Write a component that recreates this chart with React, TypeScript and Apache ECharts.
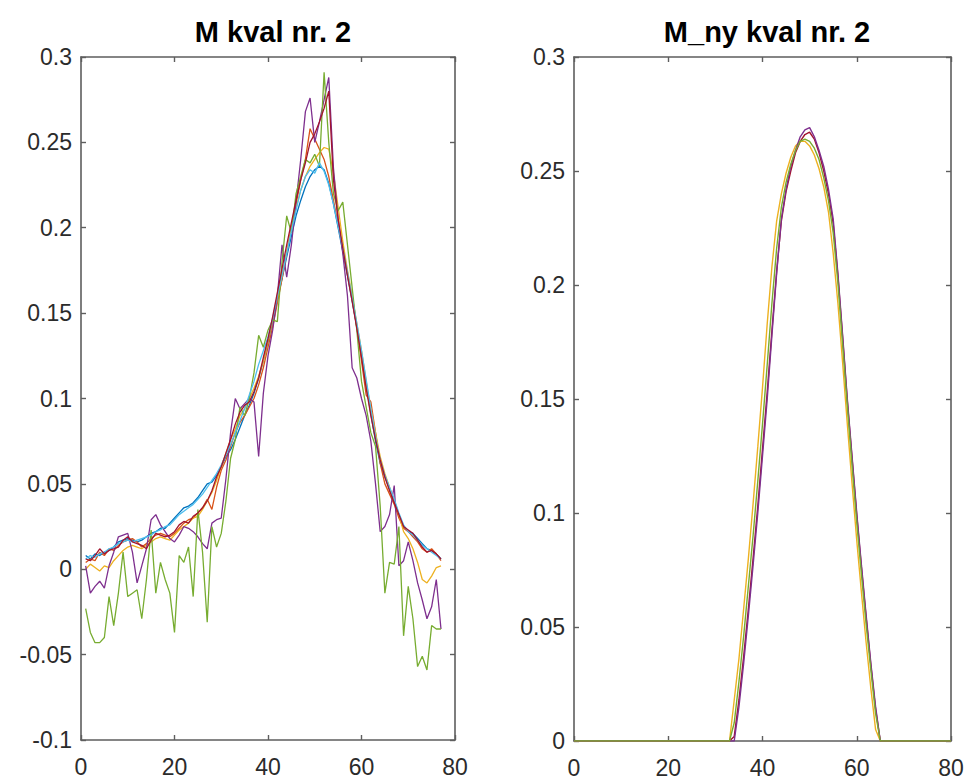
import React, { useEffect, useRef } from "react";
import * as echarts from "echarts";

// ---------- data ----------
const TITLES = ["M kval nr. 2", "M_ny kval nr. 2"];
const X_TICKS = [0, 20, 40, 60, 80];
const LEFT_Y_RANGE = [-0.1, 0.3];
const RIGHT_Y_RANGE = [0, 0.3];

const LEFT_X = [
  1, 2, 3, 4, 5, 6, 7, 8, 9, 10, 11, 12, 13, 14, 15, 16, 17, 18, 19, 20,
  21, 22, 23, 24, 25, 26, 27, 28, 29, 30, 31, 32, 33, 34, 35, 36, 37, 38, 39, 40,
  41, 42, 43, 44, 45, 46, 47, 48, 49, 50, 51, 52, 53, 54, 55, 56, 57, 58, 59, 60,
  61, 62, 63, 64, 65, 66, 67, 68, 69, 70, 71, 72, 73, 74, 75, 76, 77,
];

const L_BLUE = [
  0.008, 0.006, 0.009, 0.008, 0.010, 0.011, 0.013, 0.016, 0.017, 0.018,
  0.017, 0.016, 0.017, 0.019, 0.021, 0.022, 0.024, 0.024, 0.027, 0.030,
  0.033, 0.036, 0.037, 0.039, 0.042, 0.046, 0.050, 0.051, 0.055, 0.060,
  0.066, 0.070, 0.076, 0.083, 0.090, 0.096, 0.103, 0.112, 0.122, 0.133,
  0.145, 0.158, 0.170, 0.183, 0.195, 0.207, 0.216, 0.224, 0.230, 0.234,
  0.236, 0.234, 0.226, 0.214, 0.200, 0.186, 0.172, 0.157, 0.142, 0.125,
  0.108, 0.091, 0.075, 0.062, 0.054, 0.047, 0.040, 0.032, 0.025, 0.022,
  0.021, 0.018, 0.015, 0.012, 0.011, 0.009, 0.006,
];
const L_ORANGE = [
  0.004, 0.006, 0.005, 0.010, 0.008, 0.012, 0.011, 0.014, 0.016, 0.017,
  0.018, 0.016, 0.013, 0.015, 0.018, 0.020, 0.021, 0.020, 0.019, 0.021,
  0.024, 0.027, 0.029, 0.030, 0.033, 0.036, 0.041, 0.035, 0.048, 0.058,
  0.064, 0.072, 0.080, 0.086, 0.090, 0.095, 0.100, 0.108, 0.118, 0.130,
  0.142, 0.156, 0.170, 0.185, 0.200, 0.214, 0.228, 0.240, 0.258, 0.252,
  0.246, 0.240, 0.230, 0.216, 0.202, 0.188, 0.173, 0.158, 0.142, 0.122,
  0.102, 0.098, 0.080, 0.062, 0.050, 0.044, 0.038, 0.030, 0.024, 0.022,
  0.019, 0.016, 0.012, 0.010, 0.012, 0.009, 0.005,
];
const L_YELLOW = [
  0.000, 0.003, 0.001, -0.001, 0.002, 0.001, 0.005, 0.008, 0.011, 0.013,
  0.014, 0.013, 0.012, 0.014, 0.016, 0.018, 0.019, 0.018, 0.017, 0.020,
  0.023, 0.025, 0.027, 0.030, 0.031, 0.035, 0.040, 0.045, 0.052, 0.060,
  0.068, 0.076, 0.082, 0.090, 0.094, 0.100, 0.106, 0.113, 0.122, 0.134,
  0.146, 0.158, 0.172, 0.186, 0.200, 0.212, 0.222, 0.230, 0.236, 0.240,
  0.244, 0.247, 0.246, 0.232, 0.212, 0.192, 0.175, 0.160, 0.144, 0.128,
  0.110, 0.094, 0.080, 0.066, 0.056, 0.048, 0.040, 0.032, 0.022, 0.018,
  0.012, 0.004, -0.006, -0.008, -0.004, 0.001, 0.002,
];
const L_PURPLE = [
  0.002, -0.014, -0.010, -0.007, -0.011, 0.002, 0.010, 0.019, 0.020, 0.021,
  0.010, -0.008, 0.002, 0.012, 0.029, 0.032, 0.026, 0.022, 0.018, 0.016,
  0.020, 0.025, 0.024, 0.022, 0.019, 0.015, 0.012, 0.027, 0.029, 0.030,
  0.053, 0.080, 0.100, 0.094, 0.097, 0.100, 0.098, 0.066, 0.103, 0.125,
  0.140, 0.160, 0.190, 0.171, 0.190, 0.215, 0.240, 0.268, 0.276, 0.250,
  0.262, 0.275, 0.288, 0.235, 0.205, 0.185, 0.160, 0.118, 0.112, 0.100,
  0.090, 0.075, 0.050, 0.022, 0.025, 0.032, 0.049, 0.002, 0.005, 0.016,
  0.005, -0.008, -0.018, -0.029, -0.022, -0.006, -0.035,
];
const L_GREEN = [
  -0.023, -0.037, -0.043, -0.043, -0.040, -0.016, -0.033, -0.014, 0.010, -0.016,
  -0.014, -0.012, -0.029, -0.006, 0.023, -0.014, 0.004, -0.006, -0.014, -0.037,
  0.008, 0.004, 0.013, -0.016, 0.035, 0.010, -0.031, 0.025, 0.013, 0.021,
  0.040, 0.065, 0.076, 0.095, 0.090, 0.100, 0.115, 0.137, 0.130, 0.140,
  0.146, 0.145, 0.180, 0.207, 0.197, 0.220, 0.230, 0.240, 0.238, 0.243,
  0.236, 0.291, 0.250, 0.220, 0.210, 0.215, 0.190, 0.165, 0.140, 0.110,
  0.095, 0.080, 0.072, 0.037, -0.014, 0.004, 0.003, 0.025, -0.039, -0.010,
  -0.029, -0.057, -0.051, -0.059, -0.033, -0.035, -0.035,
];
const L_CYAN = [
  0.006, 0.008, 0.007, 0.009, 0.010, 0.012, 0.013, 0.015, 0.016, 0.017,
  0.016, 0.017, 0.018, 0.019, 0.020, 0.022, 0.023, 0.025, 0.026, 0.029,
  0.032, 0.034, 0.036, 0.038, 0.041, 0.044, 0.048, 0.052, 0.056, 0.061,
  0.067, 0.073, 0.080, 0.087, 0.094, 0.102, 0.110, 0.120, 0.128, 0.136,
  0.147, 0.160, 0.172, 0.185, 0.198, 0.210, 0.222, 0.230, 0.234, 0.232,
  0.238, 0.233, 0.225, 0.214, 0.201, 0.188, 0.174, 0.159, 0.144, 0.128,
  0.111, 0.094, 0.078, 0.064, 0.055, 0.048, 0.041, 0.033, 0.026, 0.022,
  0.020, 0.017, 0.014, 0.012, 0.010, 0.008, 0.006,
];
const L_DARKRED = [
  0.006, 0.005, 0.008, 0.012, 0.009, 0.011, 0.012, 0.013, 0.017, 0.019,
  0.016, 0.015, 0.014, 0.012, 0.017, 0.021, 0.020, 0.019, 0.020, 0.022,
  0.026, 0.028, 0.027, 0.031, 0.033, 0.036, 0.040, 0.046, 0.054, 0.060,
  0.068, 0.076, 0.085, 0.092, 0.096, 0.098, 0.104, 0.112, 0.124, 0.135,
  0.148, 0.162, 0.176, 0.190, 0.203, 0.216, 0.228, 0.238, 0.250, 0.255,
  0.262, 0.270, 0.280, 0.228, 0.205, 0.188, 0.172, 0.157, 0.141, 0.124,
  0.106, 0.090, 0.076, 0.064, 0.054, 0.046, 0.039, 0.032, 0.025, 0.023,
  0.021, 0.017, 0.013, 0.010, 0.011, 0.009, 0.006,
];

const RIGHT_X = [
  0, 33, 34, 35, 36, 37, 38, 39, 40, 41, 42, 43, 44, 45, 46, 47, 48, 49, 50,
  51, 52, 53, 54, 55, 56, 57, 58, 59, 60, 61, 62, 63, 64, 65, 66, 80,
];
const R_DARKRED = [
  0, 0, 0.002, 0.018, 0.037, 0.058, 0.080, 0.103, 0.128, 0.153, 0.180, 0.206, 0.228, 0.241, 0.250, 0.258, 0.263, 0.266, 0.267,
  0.264, 0.258, 0.250, 0.240, 0.227, 0.204, 0.177, 0.149, 0.124, 0.099, 0.076, 0.054, 0.033, 0.014, 0, 0, 0,
];
const R_YELLOW = [
  0, 0, 0.018, 0.036, 0.058, 0.080, 0.104, 0.129, 0.155, 0.183, 0.208, 0.228, 0.240, 0.249, 0.256, 0.261, 0.263, 0.263, 0.261,
  0.257, 0.251, 0.243, 0.232, 0.214, 0.192, 0.166, 0.139, 0.113, 0.088, 0.065, 0.043, 0.023, 0.005, 0, 0, 0,
];
const R_PURPLE = [
  0, 0, 0, 0.015, 0.034, 0.055, 0.077, 0.100, 0.125, 0.150, 0.178, 0.205, 0.229, 0.242, 0.252, 0.259, 0.265, 0.268, 0.269,
  0.265, 0.259, 0.252, 0.242, 0.229, 0.205, 0.178, 0.150, 0.125, 0.100, 0.077, 0.055, 0.034, 0.015, 0, 0, 0,
];
const R_GREEN = [
  0, 0, 0.008, 0.026, 0.046, 0.068, 0.090, 0.114, 0.139, 0.165, 0.192, 0.216, 0.234, 0.245, 0.253, 0.259, 0.263, 0.264, 0.263,
  0.260, 0.255, 0.247, 0.237, 0.223, 0.201, 0.174, 0.147, 0.121, 0.096, 0.073, 0.051, 0.031, 0.012, 0, 0, 0,
];

const LEFT_SERIES = [
  { color: "#0072BD", values: L_BLUE },
  { color: "#D95319", values: L_ORANGE },
  { color: "#EDB120", values: L_YELLOW },
  { color: "#7E2F8E", values: L_PURPLE },
  { color: "#77AC30", values: L_GREEN },
  { color: "#4DBEEE", values: L_CYAN },
  { color: "#A2142F", values: L_DARKRED },
];
const RIGHT_SERIES = [
  { color: "#A2142F", values: R_DARKRED },
  { color: "#EDB120", values: R_YELLOW },
  { color: "#7E2F8E", values: R_PURPLE },
  { color: "#77AC30", values: R_GREEN },
];

// ---------- styling ----------
const FONT = "Liberation Sans";
const AXIS_COLOR = "#5e5e5e";
const LABEL_COLOR = "#2b2b2b";

function fmt(v: number) {
  return String(Math.round(v * 1000) / 1000);
}

function makeAxes(grid: number, yMin: number, yMax: number) {
  const line = { show: true, onZero: false, lineStyle: { color: AXIS_COLOR, width: 1.6 } };
  const tick = { show: true, inside: true, length: 5, lineStyle: { color: AXIS_COLOR, width: 1.4 } };
  const xBase = { type: "value", gridIndex: grid, min: X_TICKS[0], max: X_TICKS[X_TICKS.length - 1], interval: 20, splitLine: { show: false }, axisLine: line, axisTick: tick };
  const yBase = { type: "value", gridIndex: grid, min: yMin, max: yMax, interval: 0.05, splitLine: { show: false }, axisLine: line, axisTick: tick };
  const xAxes = [
    { ...xBase, position: "bottom", axisLabel: { show: true, showMinLabel: true, showMaxLabel: true, margin: 15, color: LABEL_COLOR, fontSize: 23, fontFamily: FONT, formatter: fmt } },
    { ...xBase, position: "top", axisLabel: { show: false } },
  ];
  const yAxes = [
    { ...yBase, position: "left", axisLabel: { show: true, showMinLabel: true, showMaxLabel: true, margin: 9, color: LABEL_COLOR, fontSize: 23, fontFamily: FONT, formatter: fmt } },
    { ...yBase, position: "right", axisLabel: { show: false } },
  ];
  return { xAxes, yAxes };
}

export default function App() {
  const ref = useRef<HTMLDivElement>(null);
  useEffect(() => {
    if (!ref.current) return;
    const chart = echarts.init(ref.current, undefined, { renderer: "svg" });
    const a0 = makeAxes(0, LEFT_Y_RANGE[0], LEFT_Y_RANGE[1]);
    const a1 = makeAxes(1, RIGHT_Y_RANGE[0], RIGHT_Y_RANGE[1]);
    const series: any[] = [];
    LEFT_SERIES.forEach((s) => {
      series.push({
        type: "line",
        xAxisIndex: 0,
        yAxisIndex: 0,
        showSymbol: false,
        data: LEFT_X.map((x, i) => [x, s.values[i]]),
        lineStyle: { color: s.color, width: 1.3 },
        itemStyle: { color: s.color },
      });
    });
    RIGHT_SERIES.forEach((s) => {
      series.push({
        type: "line",
        xAxisIndex: 2,
        yAxisIndex: 2,
        showSymbol: false,
        data: RIGHT_X.map((x, i) => [x, s.values[i]]),
        lineStyle: { color: s.color, width: 1.4 },
        itemStyle: { color: s.color },
      });
    });
    chart.setOption({
      animation: false,
      backgroundColor: "#ffffff",
      title: [
        { text: TITLES[0], left: 268, top: 12, textAlign: "center", textStyle: { fontSize: 29, fontWeight: "bold", fontFamily: FONT, color: "#000" } },
        { text: TITLES[1], left: 762, top: 12, textAlign: "center", textStyle: { fontSize: 29, fontWeight: "bold", fontFamily: FONT, color: "#000" } },
      ],
      grid: [
        { left: 81, top: 57, width: 374, height: 683 },
        { left: 574, top: 57, width: 377, height: 684 },
      ],
      xAxis: [...a0.xAxes, ...a1.xAxes],
      yAxis: [...a0.yAxes, ...a1.yAxes],
      series,
    });
    return () => chart.dispose();
  }, []);
  return (
    <div
      ref={ref}
      style={{ position: "fixed", left: 0, top: 0, width: 969, height: 784, background: "#fff" }}
    />
  );
}
